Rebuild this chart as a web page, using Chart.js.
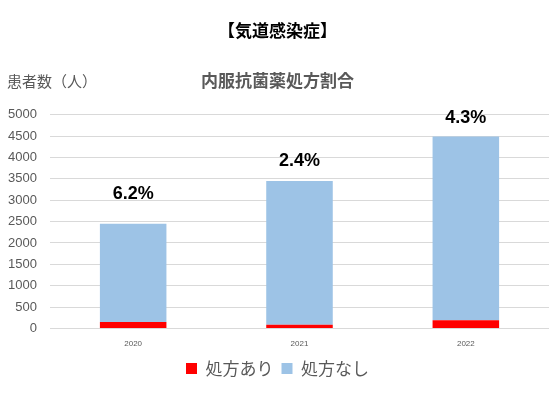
<!DOCTYPE html>
<html><head><meta charset="utf-8">
<script src="https://cdn.jsdelivr.net/npm/chart.js@4/dist/chart.umd.min.js"></script>
<style>html,body{margin:0;padding:0;background:#fff}#w{width:552px;height:394px;position:relative}</style>
</head><body><div id="w"><canvas id="c" width="552" height="394"></canvas></div>
<script>
const categories = ['2020', '2021', '2022'];
const withRx = [152, 83, 193];
const withoutRx = [2298, 3367, 4297];
const rateLabels = ['6.2%', '2.4%', '4.3%'];
const yTicks = [0, 500, 1000, 1500, 2000, 2500, 3000, 3500, 4000, 4500, 5000];
const seriesNames = ['処方あり', '処方なし'];

const JP = '"Noto Sans CJK JP", "Noto Sans", sans-serif';
const NUM = '"Liberation Sans", "Noto Sans CJK JP", sans-serif';

const extraText = {
  id: 'extraText',
  afterDraw(chart, args, opts) {
    const ctx = chart.ctx;
    ctx.save();
    ctx.fillStyle = '#595959';
    ctx.font = '15px ' + JP;
    ctx.textAlign = 'left';
    ctx.textBaseline = 'middle';
    ctx.fillText('患者数（人）', 7, 81);
    const top = chart.getDatasetMeta(1);
    ctx.fillStyle = '#000';
    ctx.font = 'bold 18px ' + NUM;
    ctx.textAlign = 'center';
    ctx.textBaseline = 'middle';
    top.data.forEach((bar, i) => {
      ctx.fillText(rateLabels[i], bar.x, bar.y - opts.offsets[i]);
    });
    ctx.restore();
  }
};

new Chart(document.getElementById('c'), {
  type: 'bar',
  data: {
    labels: categories,
    datasets: [
      { label: seriesNames[0], data: withRx, backgroundColor: '#ff0000', categoryPercentage: 1, barPercentage: 0.4 },
      { label: seriesNames[1], data: withoutRx, backgroundColor: '#9dc3e6', categoryPercentage: 1, barPercentage: 0.4 }
    ]
  },
  options: {
    responsive: false,
    animation: false,
    devicePixelRatio: 1,
    layout: { padding: { left: 6, right: 3, top: 0, bottom: 7 } },
    plugins: {
      extraText: { offsets: [30, 20, 19] },
      title: { display: true, text: '【気道感染症】', color: '#000', font: { family: JP, size: 17, weight: 'bold' }, padding: { top: 20, bottom: 30 } },
      subtitle: { display: true, text: '内服抗菌薬処方割合', color: '#595959', font: { family: JP, size: 17, weight: 'bold' }, padding: { top: 0, bottom: 24 } },
      legend: {
        position: 'bottom',
        labels: { boxWidth: 11, boxHeight: 11, color: '#595959', font: { family: JP, size: 17 }, padding: 8 }
      },
      tooltip: { enabled: false }
    },
    scales: {
      x: {
        stacked: true,
        grid: { display: false },
        border: { display: false },
        ticks: { color: '#595959', font: { family: NUM, size: 8 }, padding: 3 }
      },
      y: {
        stacked: true,
        min: 0, max: 5000,
        afterBuildTicks: (axis) => { axis.ticks = yTicks.map(v => ({ value: v })); },
        afterFit: (axis) => { axis.width = 44; },
        grid: { color: '#d9d9d9', lineWidth: 1, drawTicks: false },
        border: { display: false },
        ticks: { color: '#595959', font: { family: NUM, size: 13 }, padding: 13, callback: (v) => String(v) }
      }
    }
  },
  plugins: [extraText]
});
</script></body></html>
